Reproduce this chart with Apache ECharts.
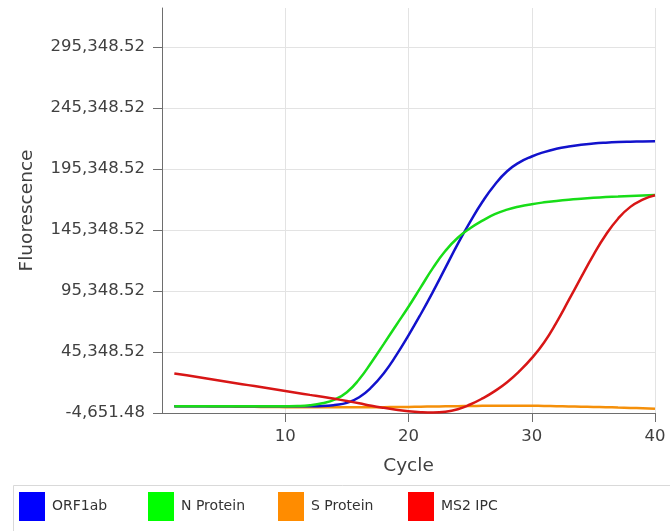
<!DOCTYPE html>
<html>
<head>
<meta charset="utf-8">
<script src="https://cdn.jsdelivr.net/npm/echarts@6/dist/echarts.min.js"></script>
<style>
html,body{margin:0;padding:0;background:#fff;}
#chart{width:670px;height:531px;}
</style>
</head>
<body>
<div id="chart"></div>
<script>
const CYCLES = [1,2,3,4,5,6,7,8,9,10,11,12,13,14,15,16,17,18,19,20,21,22,23,24,25,26,27,28,29,30,31,32,33,34,35,36,37,38,39,40];
const ORF1AB = [900,890,880,870,860,850,840,830,820,820,830,870,1050,1900,3600,8300,16500,28000,42600,59000,76500,95000,114500,134000,152000,168500,182500,193500,200800,205600,209200,211900,213800,215200,216200,216900,217400,217700,217900,218000];
const N_PROTEIN = [950,940,930,920,910,900,900,900,920,960,1100,1700,3300,6300,12400,23000,37000,52000,67300,82400,98500,114500,128300,139000,146800,153000,158300,162000,164600,166500,168000,169200,170200,171000,171700,172300,172800,173300,173700,174100];
const S_PROTEIN = [900,850,800,750,650,550,450,350,250,150,100,50,0,0,0,50,100,150,250,350,500,650,800,950,1100,1200,1250,1300,1300,1250,1100,900,700,500,300,100,-200,-500,-800,-1200];
const MS2_IPC = [27800,26200,24600,23000,21400,19800,18200,16600,15000,13400,11800,10200,8700,7000,5200,3300,1300,-400,-1900,-3200,-4000,-4300,-3700,-1600,2300,7300,13300,20600,29600,40300,53200,69500,87800,106500,124800,141200,154600,164300,170200,173800];
const SERIES_NAMES = ['ORF1ab','N Protein','S Protein','MS2 IPC'];
const Y_TICKS = [-4651.48,45348.52,95348.52,145348.52,195348.52,245348.52,295348.52];

const LINE_COLORS = ['#1212cc','#18dd18','#f5900a','#d81616'];
const LEGEND_COLORS = ['#0000ff','#00ff00','#ff8c00','#ff0000'];
const LEGEND_LEFT = [19,148,278,408];

function fmt(v){
  const neg = v < 0;
  const s = Math.abs(v).toFixed(2);
  const parts = s.split('.');
  const intPart = parts[0].replace(/\B(?=(\d{3})+(?!\d))/g, ',');
  return (neg ? '-' : '') + intPart + '.' + parts[1];
}

const dataSets = [ORF1AB, N_PROTEIN, S_PROTEIN, MS2_IPC];
const chart = echarts.init(document.getElementById('chart'), null, {renderer:'canvas'});
const FONT = 'DejaVu Sans';
chart.setOption({
  animation:false,
  backgroundColor:'#ffffff',
  grid:{left:162,right:15,top:8,bottom:118,containLabel:false},
  xAxis:{
    type:'value', min:0, max:40, interval:10,
    name:'Cycle', nameLocation:'middle', nameGap:44,
    nameTextStyle:{fontFamily:FONT,fontSize:18.5,color:'#404040'},
    axisLine:{show:true,onZero:false,lineStyle:{color:'#6e6e6e',width:1}},
    axisTick:{show:true,length:9,lineStyle:{color:'#6e6e6e'}},
    axisLabel:{fontFamily:FONT,fontSize:16.5,color:'#404040',margin:15,showMinLabel:false},
    splitLine:{show:true,lineStyle:{color:'#e3e3e3',width:1}}
  },
  yAxis:{
    type:'value', min:-4651.48, max:327300,
    name:'Fluorescence', nameLocation:'middle', nameGap:125,
    nameTextStyle:{fontFamily:FONT,fontSize:18.5,color:'#404040'},
    axisLine:{show:true,onZero:false,lineStyle:{color:'#6e6e6e',width:1}},
    axisTick:{show:true,length:9,customValues:Y_TICKS,lineStyle:{color:'#6e6e6e'}},
    axisLabel:{fontFamily:FONT,fontSize:16.5,color:'#404040',margin:17,customValues:Y_TICKS,formatter:fmt},
    splitLine:{show:true,lineStyle:{color:'#e3e3e3',width:1}}
  },
  legend:SERIES_NAMES.map((n,i)=>({
    left:LEGEND_LEFT[i], top:492, padding:0, itemWidth:26, itemHeight:29,
    icon:'rect',
    textStyle:{fontFamily:FONT,fontSize:14,color:'#333333',padding:[0,0,0,2]},
    data:[{name:n,itemStyle:{color:LEGEND_COLORS[i],borderWidth:0}}]
  })),
  graphic:[{
    type:'rect', left:11, top:483, silent:true,
    shape:{width:700,height:47},
    style:{fill:'none',stroke:'#d9d9d9',lineWidth:1}
  }],
  series:SERIES_NAMES.map((n,i)=>({
    name:n, type:'line', smooth:0.5, showSymbol:false, symbol:'none',
    color:LEGEND_COLORS[i],
    lineStyle:{color:LINE_COLORS[i],width:2.5},
    data:CYCLES.map((c,j)=>[c,dataSets[i][j]]),
    z: i===2 ? 1 : 2+i
  }))
});
</script>
</body>
</html>
